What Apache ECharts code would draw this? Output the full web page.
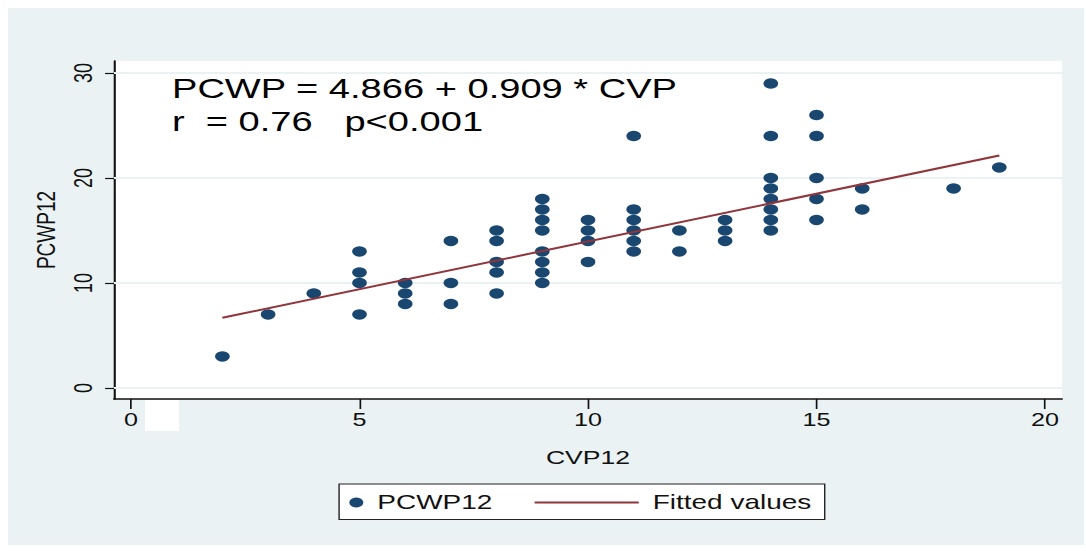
<!DOCTYPE html>
<html>
<head>
<meta charset="utf-8">
<script src="https://cdn.jsdelivr.net/npm/echarts@6/dist/echarts.min.js"></script>
<style>
  html, body { margin: 0; padding: 0; background: #ffffff; overflow: hidden; }
  /* the chart is laid out on a narrower canvas and widened horizontally */
  #chart { width: 776px; height: 551px; transform: scaleX(1.39948); transform-origin: 0 0; }
</style>
</head>
<body>
<div id="chart"></div>
<script>
// CVP12 / PCWP12 pairs (one entry per patient)
const CVP12 = [2, 3, 4, 5, 5, 5, 5, 6, 6, 6, 7, 7, 7, 8, 8, 8, 8, 8,
  9, 9, 9, 9, 9, 9, 9, 9, 10, 10, 10, 10, 11, 11, 11, 11, 11, 11, 12, 12,
  13, 13, 13, 14, 14, 14, 14, 14, 14, 14, 14, 15, 15, 15, 15, 15, 16, 16, 18, 19];
const PCWP12 = [3, 7, 9, 13, 11, 10, 7, 10, 9, 8, 14, 10, 8, 15, 14, 12, 11, 9,
  18, 17, 16, 15, 13, 12, 11, 10, 16, 15, 14, 12, 24, 17, 16, 15, 14, 13, 15, 13,
  16, 15, 14, 29, 24, 20, 19, 18, 17, 16, 15, 26, 24, 20, 18, 16, 19, 17, 19, 21];

// regression: PCWP = 4.866 + 0.909 * CVP, drawn over the observed CVP range
const FIT_INTERCEPT = 4.866;
const FIT_SLOPE = 0.909;
const FIT_X = [2, 19];

const X_TICKS = [0, 5, 10, 15, 20];
const Y_TICKS = [0, 10, 20, 30];

const SERIES_NAMES = ['PCWP12', 'Fitted values'];
const EQUATION_TEXT = 'PCWP = 4.866 + 0.909 * CVP';
const STATS_TEXT = 'r  = 0.76   p<0.001';

const FONT = "'Liberation Sans', Arial, Helvetica, sans-serif";
const INK = '#111111';
const MARKER = '#1a476f';
const FIT = '#90353b';

const points = CVP12.map((x, i) => [x, PCWP12[i]]);
const fitLine = FIT_X.map(x => [x, FIT_INTERCEPT + FIT_SLOPE * x]);

const chart = echarts.init(document.getElementById('chart'), null, { renderer: 'svg' });

chart.setOption({
  animation: false,
  backgroundColor: '#ffffff',
  textStyle: { fontFamily: FONT },
  grid: {
    left: 81.46, right: 17.15, top: 61, bottom: 152,
    show: true, backgroundColor: '#ffffff', borderWidth: 0
  },
  xAxis: {
    type: 'value', min: -0.372, max: 20.372,
    name: 'CVP12', nameLocation: 'middle', nameGap: 49,
    nameTextStyle: { fontSize: 19, color: INK, fontFamily: FONT },
    axisLine: { show: true, onZero: false, lineStyle: { color: INK, width: 1.5 } },
    axisTick: { show: true, length: 10, customValues: X_TICKS, lineStyle: { color: INK, width: 1.2 } },
    axisLabel: { customValues: X_TICKS, fontSize: 18, color: INK, margin: 12, fontFamily: FONT },
    splitLine: { show: false }
  },
  yAxis: {
    type: 'value', min: -1.048, max: 31.143,
    name: 'PCWP12', nameLocation: 'middle', nameGap: 31, nameRotate: 90,
    nameTextStyle: { fontSize: 19, color: INK, fontFamily: FONT },
    axisLine: { show: true, onZero: false, lineStyle: { color: INK, width: 1.5 } },
    axisTick: { show: true, length: 6.4, customValues: Y_TICKS, lineStyle: { color: INK, width: 1.2 } },
    axisLabel: { customValues: Y_TICKS, rotate: 90, fontSize: 18, color: INK, margin: 13, fontFamily: FONT },
    splitLine: { show: false }
  },
  legend: [
    {
      data: [{ name: SERIES_NAMES[0], icon: 'circle' }], left: 249.6, top: 492.5, padding: 0,
      itemWidth: 10, itemHeight: 10, selectedMode: false,
      textStyle: { fontSize: 20, color: INK, fontFamily: FONT, padding: [0, 0, 0, 5] }
    },
    {
      data: [{ name: SERIES_NAMES[1], icon: 'rect' }], left: 382, top: 492.5, padding: 0,
      itemWidth: 74.4, itemHeight: 2, selectedMode: false,
      textStyle: { fontSize: 20, color: INK, fontFamily: FONT, padding: [0, 0, 0, 5] }
    }
  ],
  graphic: [
    { type: 'rect', silent: true, z: -10,
      shape: { x: 5.72, y: 8, width: 768.9, height: 537 },
      style: { fill: '#eaf2f3' } },
    { type: 'rect', silent: true, z: 1,
      shape: { x: 103.6, y: 400, width: 24.3, height: 31 },
      style: { fill: '#ffffff' } },
    { type: 'rect', silent: true, z: 1,
      shape: { x: 242.3, y: 484, width: 347, height: 35.5 },
      style: { fill: '#ffffff', stroke: '#222222', lineWidth: 1 } },
    { type: 'text', silent: true, z: 10, x: 122.9, y: 88.5,
      style: { text: EQUATION_TEXT, fontSize: 27.2, fontFamily: FONT, fill: '#000000', verticalAlign: 'middle' } },
    { type: 'text', silent: true, z: 10, x: 122.9, y: 121.5,
      style: { text: STATS_TEXT, fontSize: 27.2, fontFamily: FONT, fill: '#000000', verticalAlign: 'middle' } }
  ],
  series: [
    {
      name: SERIES_NAMES[0], type: 'scatter', data: points,
      symbol: 'circle', symbolSize: 10.5, z: 3,
      itemStyle: { color: MARKER, opacity: 1 },
      markLine: {
        silent: true, z: 1, symbol: ['none', 'none'],
        label: { show: false },
        lineStyle: { color: '#eaf2f3', width: 2, type: 'solid' },
        data: Y_TICKS.map(v => ({ yAxis: v }))
      }
    },
    {
      name: SERIES_NAMES[1], type: 'line', data: fitLine,
      symbol: 'none', z: 4,
      itemStyle: { color: FIT },
      lineStyle: { color: FIT, width: 2 }
    }
  ]
});
</script>
</body>
</html>
